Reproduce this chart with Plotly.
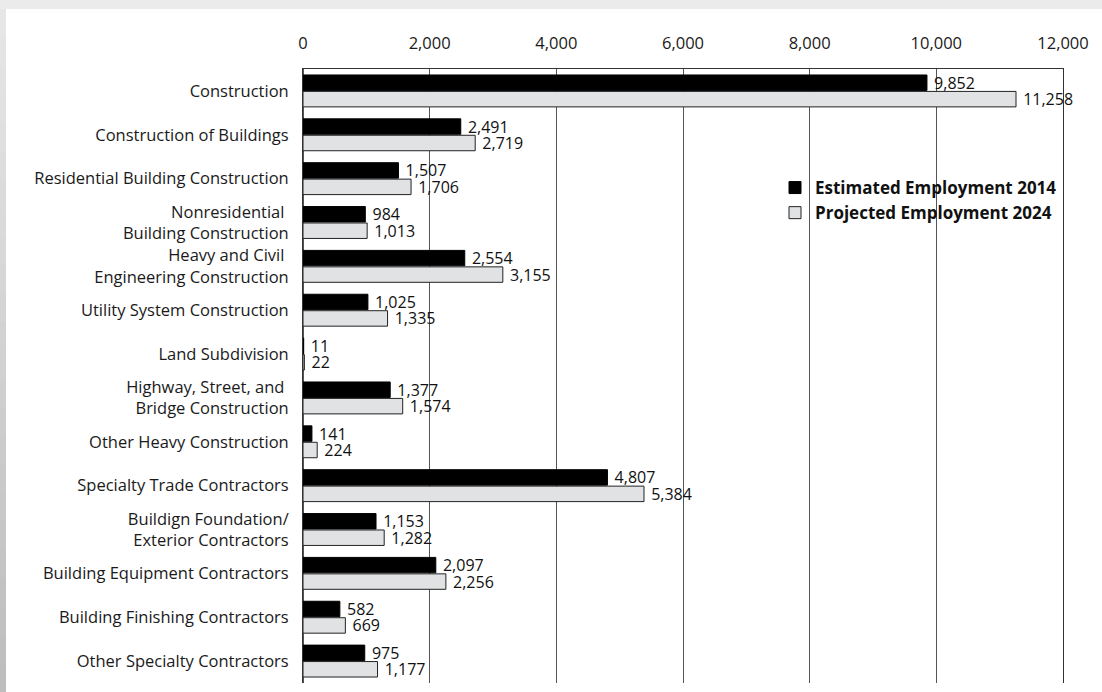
import plotly.graph_objects as go

# Industry categories (top to bottom) and employment counts
categories = [
    "Construction",
    "Construction of Buildings",
    "Residential Building Construction",
    "Nonresidential\u00a0<br>Building Construction",
    "Heavy and Civil\u00a0<br>Engineering Construction",
    "Utility System Construction",
    "Land Subdivision",
    "Highway, Street, and\u00a0<br>Bridge Construction",
    "Other Heavy Construction",
    "Specialty Trade Contractors",
    "Buildign Foundation/<br>Exterior Contractors",
    "Building Equipment Contractors",
    "Building Finishing Contractors",
    "Other Specialty Contractors",
]
employment_2014 = [9852, 2491, 1507, 984, 2554, 1025, 11, 1377, 141, 4807, 1153, 2097, 582, 975]
employment_2024 = [11258, 2719, 1706, 1013, 3155, 1335, 22, 1574, 224, 5384, 1282, 2256, 669, 1177]
x_ticks = [0, 2000, 4000, 6000, 8000, 10000, 12000]

FONT = "Open Sans"
FS = 16.5
VFS = 16
W, H = 1102, 692
L, R, T, B = 303, 39, 69, 9
PW, PH = W - L - R, H - T - B


def px_x(p):
    return (p - L) / PW


def px_y(p):
    return (H - B - p) / PH


def value_text(vals):
    # small lead-in so the number sits a little clear of the bar end
    return ["\u00a0" + f"{v:,}" for v in vals]


fig = go.Figure()
fig.add_trace(go.Bar(
    y=categories, x=employment_2014, orientation="h",
    name="Estimated Employment 2014",
    marker=dict(color="#000000", line=dict(color="#000000", width=1)),
    text=value_text(employment_2014), textposition="outside",
    constraintext="none",
    textfont=dict(family=FONT, size=VFS, color="#111111"), cliponaxis=False,
))
fig.add_trace(go.Bar(
    y=categories, x=employment_2024, orientation="h",
    name="Projected Employment 2024",
    marker=dict(color="#e1e2e3", line=dict(color="#222222", width=1)),
    text=value_text(employment_2024), textposition="outside",
    constraintext="none",
    textfont=dict(family=FONT, size=VFS, color="#111111"), cliponaxis=False,
))

# Page frame: light gray margin on top, graded gray strip on the left
shapes = [dict(type="rect", xref="paper", yref="paper",
               x0=px_x(6), x1=px_x(W + 2), y0=px_y(9), y1=px_y(H + 2),
               fillcolor="white", line=dict(width=0), layer="below")]
n = 24
for i in range(n):
    y0p = 9 + (H - 9) * i / n
    y1p = 9 + (H - 9) * (i + 1) / n
    t = i / (n - 1)
    g = int(round(0xe6 - (0xe6 - 0xbd) * t))
    shapes.append(dict(type="rect", xref="paper", yref="paper",
                       x0=px_x(-2), x1=px_x(6), y0=px_y(y0p), y1=px_y(y1p + 1),
                       fillcolor=f"rgb({g},{g},{g})", line=dict(width=0), layer="below"))

fig.update_layout(
    width=W, height=H,
    margin=dict(l=L, r=R, t=T, b=B, autoexpand=False),
    paper_bgcolor="#ebebeb", plot_bgcolor="rgba(0,0,0,0)",
    barmode="group", bargap=0.25, bargroupgap=0.06,
    font=dict(family=FONT, size=FS, color="#1a1a1a"),
    shapes=shapes,
    showlegend=True,
    legend=dict(x=px_x(775), y=px_y(170), xanchor="left", yanchor="top",
                bgcolor="rgba(0,0,0,0)",
                font=dict(family=FONT, size=17, color="#111111", weight="bold"),
                tracegroupgap=0, itemwidth=30),
    xaxis=dict(side="top", range=[0, 12000], tickvals=x_ticks,
               ticktext=[f"{v:,}" for v in x_ticks],
               showgrid=True, gridcolor="#555555", gridwidth=1,
               zeroline=True, zerolinecolor="#555555", zerolinewidth=1,
               showline=True, linecolor="#333333", linewidth=1,
               ticks="", ticklabelstandoff=12,
               tickfont=dict(family=FONT, size=FS, color="#1a1a1a"), fixedrange=True),
    yaxis=dict(autorange="reversed", showgrid=False, ticks="", ticklabelstandoff=10,
               showline=True, mirror=True, linecolor="#333333", linewidth=1,
               tickfont=dict(family=FONT, size=FS, color="#1a1a1a"), fixedrange=True),
)

fig.write_html("out.html")
